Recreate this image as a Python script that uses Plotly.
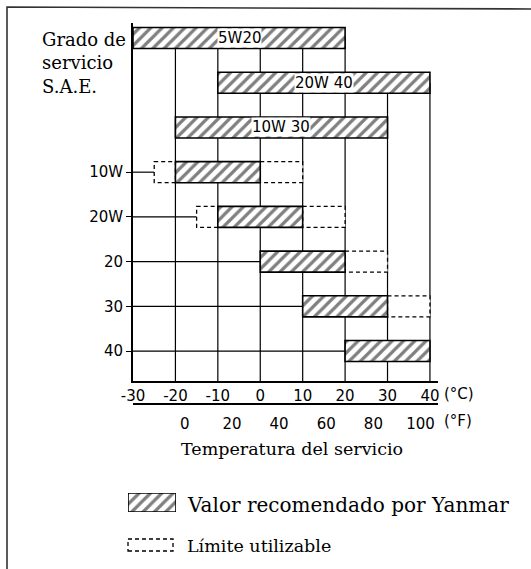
import plotly.graph_objects as go

# SAE grade rows, top to bottom
grades = ["5W20", "20W 40", "10W 30", "10W", "20W", "20", "30", "40"]
bar_grades = ["5W20", "20W 40", "10W 30"]          # labelled inside the bar
axis_grades = ["10W", "20W", "20", "30", "40"]      # labelled on the axis

# recommended range (°C)
rec_lo = [-30, -10, -20, -20, -10, 0, 10, 20]
rec_hi = [20, 40, 30, 0, 10, 20, 30, 40]
# usable limit (°C)
use_lo = [-30, -10, -20, -25, -15, 0, 10, 20]
use_hi = [20, 40, 30, 10, 20, 30, 40, 40]

c_ticks = [-30, -20, -10, 0, 10, 20, 30, 40]
f_ticks = [0, 20, 40, 60, 80, 100]

W, H = 531, 569
def px(x):
    return x / W
def py(y):
    return (H - y) / H

SERIF = "DejaVu Serif"
SANS = "DejaVu Sans"
BW = 0.47
X_RANGE = [-30, 41.9]
Y_RANGE = [7.67, -0.336]

def c2f(c):
    return c * 9 / 5 + 32

hatch = dict(shape="/", fgcolor="black", bgcolor="white", size=8, solidity=0.4)

fig = go.Figure()
fig.add_trace(go.Bar(
    y=grades, x=[h - l for l, h in zip(rec_lo, rec_hi)], base=rec_lo,
    orientation="h", width=BW,
    marker=dict(color="white", line=dict(color="black", width=1.6), pattern=hatch),
    hoverinfo="skip", showlegend=False,
))
# invisible trace so the °F axis gets drawn
fig.add_trace(go.Scatter(
    x=[c2f(c) for c in c_ticks], y=[grades[-1]] * len(c_ticks), xaxis="x2", yaxis="y",
    mode="markers", marker=dict(opacity=0), hoverinfo="skip", showlegend=False,
))
# legend swatch for the hatched bars
fig.add_trace(go.Bar(
    y=[0], x=[1], base=[0], orientation="h", width=1,
    marker=dict(color="white", line=dict(color="black", width=1.6), pattern=hatch),
    xaxis="x3", yaxis="y3", hoverinfo="skip", showlegend=False,
))

shapes = []
# vertical grid lines, from the top-most bar covering them down to the axis
for v in c_ticks[1:]:
    top = next(i for i in range(len(grades)) if rec_lo[i] <= v <= rec_hi[i])
    shapes.append(dict(type="line", xref="x", yref="y", x0=v, x1=v, y0=top, y1=Y_RANGE[0],
                       line=dict(color="black", width=1.2), layer="below"))
# leader lines from the axis to each single grade
for g in axis_grades:
    i = grades.index(g)
    shapes.append(dict(type="line", xref="x", yref="y", x0=X_RANGE[0], x1=min(use_lo[i], rec_lo[i]),
                       y0=i, y1=i, line=dict(color="black", width=1.2), layer="below"))
# dashed usable-limit boxes
dash = dict(color="black", width=1.3, dash="4px,3px")
for i in range(len(grades)):
    if use_lo[i] < rec_lo[i]:
        shapes.append(dict(type="rect", xref="x", yref="y", x0=use_lo[i], x1=rec_lo[i],
                           y0=i - BW / 2, y1=i + BW / 2, line=dash, fillcolor="white", layer="below"))
    if use_hi[i] > rec_hi[i]:
        shapes.append(dict(type="rect", xref="x", yref="y", x0=rec_hi[i], x1=use_hi[i],
                           y0=i - BW / 2, y1=i + BW / 2, line=dash, fillcolor="white", layer="below"))
# legend dashed swatch
shapes.append(dict(type="rect", xref="paper", yref="paper", x0=px(128), x1=px(173),
                   y0=py(551), y1=py(539), line=dash, fillcolor="rgba(0,0,0,0)"))
# page frame
shapes.append(dict(type="path", xref="paper", yref="paper",
                   path=f"M {px(7)},{py(569)} L {px(7)},{py(7)} L {px(531)},{py(9)}",
                   line=dict(color="#333", width=1.6)))

def note(x, y, text, size, family=SERIF, xanchor="left"):
    return dict(x=px(x), y=py(y), xref="paper", yref="paper", xanchor=xanchor, yanchor="middle",
                text=text, showarrow=False, font=dict(family=family, size=size, color="black"))

annotations = []
for g in bar_grades:
    i = grades.index(g)
    annotations.append(dict(x=(rec_lo[i] + rec_hi[i]) / 2, y=i, xref="x", yref="y", text=g,
                            showarrow=False, bgcolor="white", borderpad=0,
                            xanchor="center", yanchor="middle",
                            font=dict(family=SANS, size=15, color="black")))
annotations += [
    dict(x=px(40), y=py(27), xref="paper", yref="paper", xanchor="left", yanchor="top",
         align="left", text="Grado de<br>servicio<br>S.A.E.", showarrow=False,
         font=dict(family=SERIF, size=18, color="black")),
    note(442, 394, "(°C)", 15, SANS),
    note(442, 421, "(°F)", 15, SANS),
    note(292, 449, "Temperatura del servicio", 17.5, xanchor="center"),
    note(185, 505, "Valor recomendado por Yanmar", 20),
    note(185, 546, "Límite utilizable", 17.5),
]

tickfont = dict(family=SANS, size=15, color="black")
fig.update_layout(
    width=W, height=H, margin=dict(l=0, r=0, t=0, b=0, autoexpand=False),
    paper_bgcolor="white", plot_bgcolor="white",
    barmode="overlay", showlegend=False,
    shapes=shapes, annotations=annotations,
    xaxis=dict(domain=[px(133), px(438)], range=X_RANGE, tickmode="array", tickvals=c_ticks,
               ticktext=[str(v) for v in c_ticks], automargin=False,
               showgrid=False, zeroline=False, showline=True, linecolor="black", linewidth=1.8,
               ticks="", tickfont=tickfont, anchor="y"),
    xaxis2=dict(overlaying="x", anchor="free", position=py(404), side="bottom",
                range=[c2f(X_RANGE[0]), c2f(X_RANGE[1])], tickmode="array", tickvals=f_ticks,
                ticktext=[str(v) for v in f_ticks], automargin=False,
                showgrid=False, zeroline=False, showline=True, linecolor="black", linewidth=1.6,
                ticks="", ticklabelstandoff=6, tickfont=tickfont),
    yaxis=dict(domain=[py(381), py(23)], type="category", categoryarray=grades, range=Y_RANGE,
               tickmode="array", tickvals=axis_grades, ticks="outside", ticklen=5,
               tickcolor="black", showgrid=False, zeroline=False, showline=True, automargin=False,
               linecolor="black", linewidth=1.8, tickfont=tickfont, anchor="x"),
    xaxis3=dict(domain=[px(128), px(176)], range=[0, 1], visible=False, anchor="y3",
                automargin=False),
    yaxis3=dict(domain=[py(512), py(493)], range=[-0.5, 0.5], visible=False, anchor="x3",
                automargin=False),
)

fig.write_html("out.html", config={"displayModeBar": False},
               post_script="document.body.style.margin='0';document.body.style.overflow='hidden';")
